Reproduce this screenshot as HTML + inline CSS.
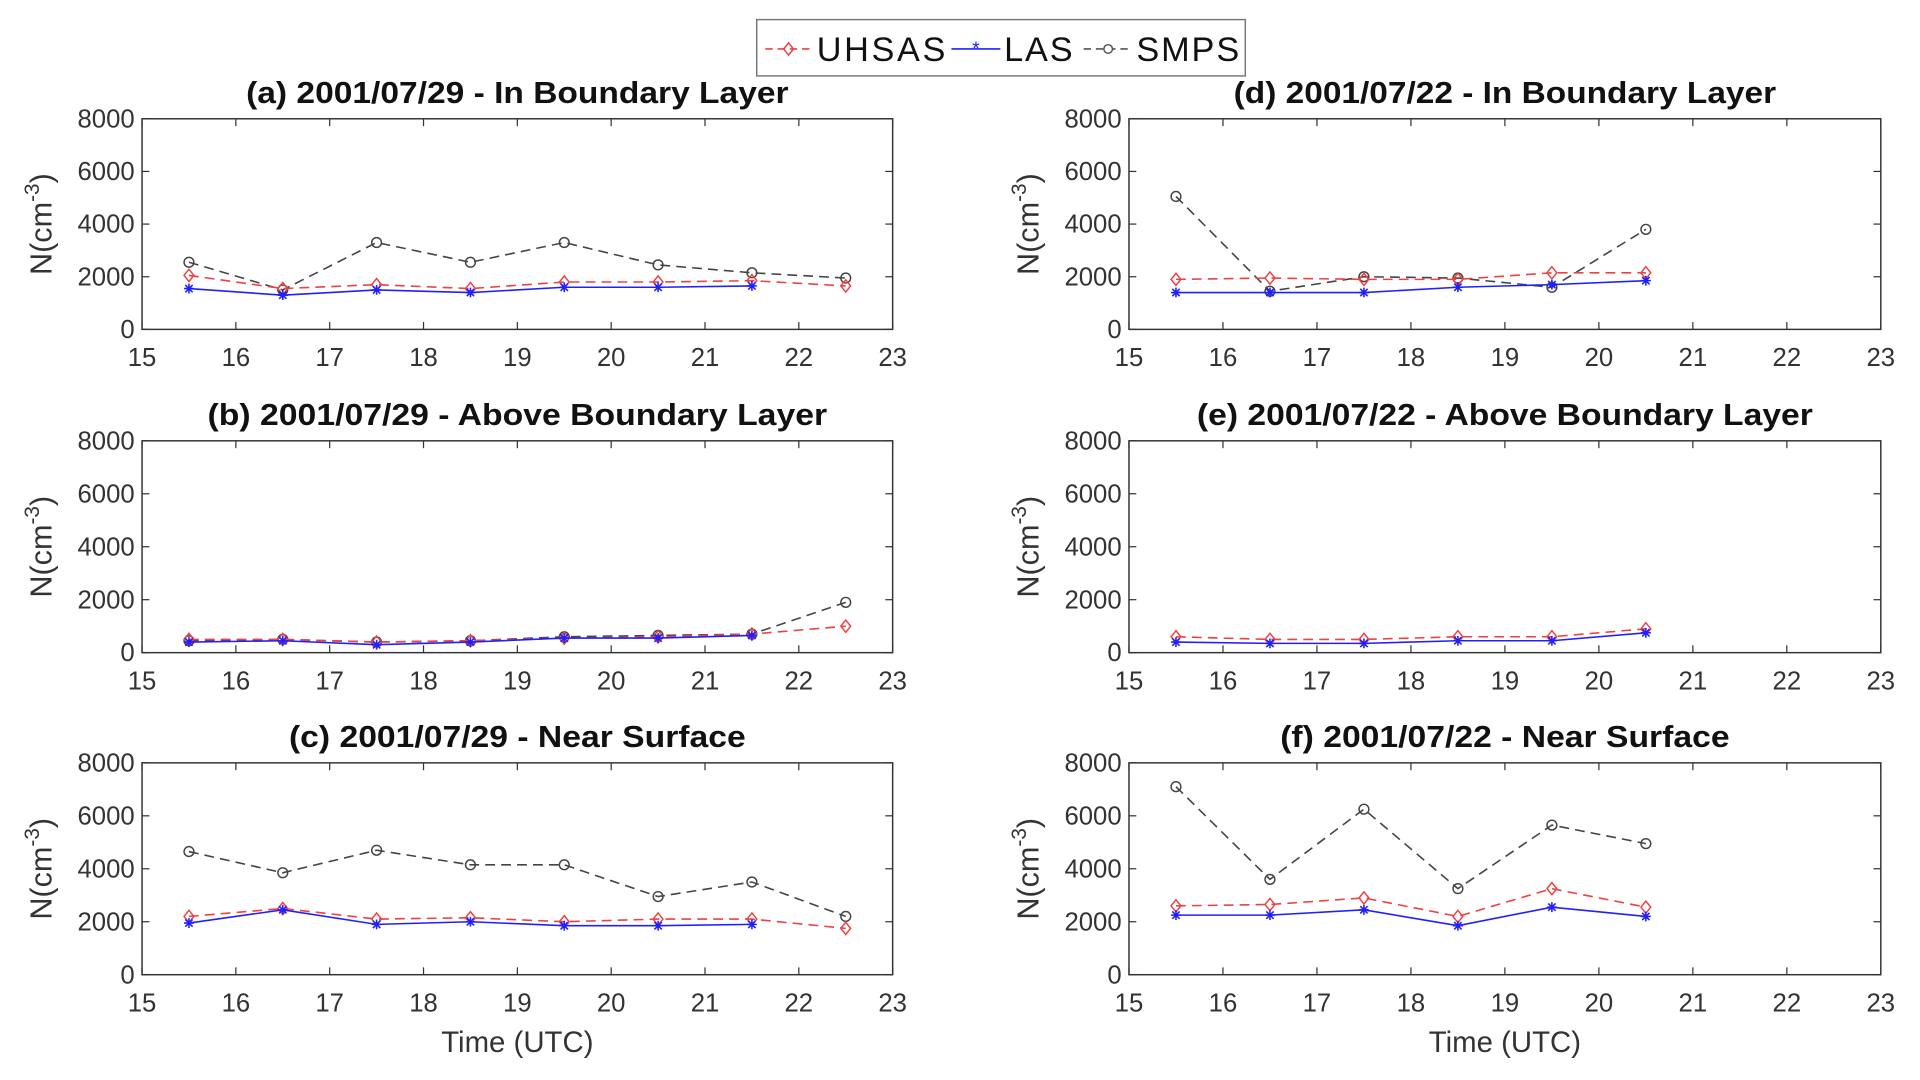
<!DOCTYPE html>
<html><head><meta charset="utf-8"><style>
html,body{margin:0;padding:0;background:#fff;}
svg{display:block;font-family:"Liberation Sans",Arial,sans-serif;}
</style></head><body>
<svg id="chart" width="1920" height="1080" viewBox="0 0 1568 882" preserveAspectRatio="none" xmlns="http://www.w3.org/2000/svg">
<rect width="1568" height="882" fill="#fff"/>
<g id="legend">
<rect x="618" y="16" width="399" height="46" fill="#fff" stroke="#777" stroke-width="1.2"/>
<g>
<line x1="625" y1="40" x2="663" y2="40" stroke="#f04040" stroke-width="1.3" stroke-dasharray="6,4"/>
<path d="M644,35 L648,40 L644,45 L640,40 Z" fill="none" stroke="#f04040" stroke-width="1.2"/>
<text x="667" y="50" font-size="28" fill="#111" textLength="105">UHSAS</text></g>
<g>
<line x1="777" y1="40" x2="817" y2="40" stroke="#2020ff" stroke-width="1.3"/>
<text x="797" y="45" font-size="16" fill="#2020ff" text-anchor="middle">*</text>
<text x="820" y="50" font-size="28" fill="#111" textLength="56">LAS</text></g>
<g>
<line x1="885" y1="40" x2="925" y2="40" stroke="#555" stroke-width="1.3" stroke-dasharray="6,4"/>
<circle cx="905" cy="40" r="3.5" fill="#fff" stroke="#555" stroke-width="1.2"/>
<text x="928" y="50" font-size="28" fill="#111" textLength="84">SMPS</text></g>
</g>
<g id="panels"></g>
</svg>
<script>
const xTicks = [15,16,17,18,19,20,21,22,23];
const yTicks = [0,2000,4000,6000,8000];
const titles = ["(a) 2001/07/29 - In Boundary Layer","(b) 2001/07/29 - Above Boundary Layer","(c) 2001/07/29 - Near Surface","(d) 2001/07/22 - In Boundary Layer","(e) 2001/07/22 - Above Boundary Layer","(f) 2001/07/22 - Near Surface"];
const titleWidths = [443,506,373,443,503,367];
const timesA = [15.5,16.5,17.5,18.5,19.5,20.5,21.5,22.5];
const timesD = [15.5,16.5,17.5,18.5,19.5,20.5];
const uhsasA = [2050,1550,1700,1550,1800,1800,1850,1650];
const lasA = [1550,1300,1500,1400,1600,1600,1650];
const smpsA = [2550,1500,3300,2550,3300,2450,2150,1950];
const uhsasB = [500,500,400,450,550,600,700,1000];
const lasB = [400,450,300,400,550,550,650];
const smpsB = [450,500,400,450,600,650,700,1900];
const uhsasC = [2200,2500,2100,2150,2000,2100,2100,1750];
const lasC = [1950,2450,1900,2000,1850,1850,1900];
const smpsC = [4650,3850,4700,4150,4150,2950,3500,2200];
const uhsasD = [1900,1950,1900,1900,2150,2150];
const lasD = [1400,1400,1400,1600,1700,1850];
const smpsD = [5050,1450,2000,1950,1600,3800];
const uhsasE = [600,500,500,600,600,900];
const lasE = [400,350,350,450,450,750];
const smpsE = [];
const uhsasF = [2600,2650,2900,2200,3250,2550];
const lasF = [2250,2250,2450,1850,2550,2200];
const smpsF = [7100,3600,6250,3250,5650,4950];

const NS="http://www.w3.org/2000/svg";
const root=document.getElementById('panels');
function mk(tag,attrs,parent){const e=document.createElementNS(NS,tag);for(const k in attrs)e.setAttribute(k,attrs[k]);parent.appendChild(e);return e;}
const cols=[{x0:116,x1:729},{x0:922,x1:1536}];
const rows=[{y0:97,y1:269},{y0:360,y1:533},{y0:623,y1:796}];
const panels=[
 {c:0,r:0,t:timesA,u:uhsasA,l:lasA,s:smpsA},
 {c:0,r:1,t:timesA,u:uhsasB,l:lasB,s:smpsB},
 {c:0,r:2,t:timesA,u:uhsasC,l:lasC,s:smpsC},
 {c:1,r:0,t:timesD,u:uhsasD,l:lasD,s:smpsD},
 {c:1,r:1,t:timesD,u:uhsasE,l:lasE,s:smpsE},
 {c:1,r:2,t:timesD,u:uhsasF,l:lasF,s:smpsF}];
const letters=['a','b','c','d','e','f'];
panels.forEach((p,i)=>{
 const C=cols[p.c],R=rows[p.r];
 const xs=v=>C.x0+(v-15)/8*(C.x1-C.x0);
 const ys=v=>R.y1-v/8000*(R.y1-R.y0);
 const g=mk('g',{},root);
 
 
 const tt=mk('text',{x:(C.x0+C.x1)/2,y:R.y0-13,'font-size':25,'font-weight':'bold','text-anchor':'middle',fill:'#111',textLength:titleWidths[i],lengthAdjust:'spacingAndGlyphs'},g);
 tt.textContent=titles[i];
 
 
 const box=mk('rect',{x:C.x0,y:R.y0,width:C.x1-C.x0,height:R.y1-R.y0,fill:'#fff',stroke:'#333','stroke-width':1.2},g);
 
 
 xTicks.forEach(v=>{
  const x=xs(v);
  mk('line',{x1:x,y1:R.y1,x2:x,y2:R.y1-6,stroke:'#333'},g);
  mk('line',{x1:x,y1:R.y0,x2:x,y2:R.y0+6,stroke:'#333'},g);
  const t=mk('text',{x:x,y:R.y1+30,'font-size':21,'text-anchor':'middle',fill:'#333'},g);
  t.textContent=v;
  
  
 });
 yTicks.forEach(v=>{
  const y=ys(v);
  mk('line',{x1:C.x0,y1:y,x2:C.x0+6,y2:y,stroke:'#333'},g);
  mk('line',{x1:C.x1,y1:y,x2:C.x1-6,y2:y,stroke:'#333'},g);
  const t=mk('text',{x:C.x0-6,y:y+7,'font-size':21,'text-anchor':'end',fill:'#333'},g);
  t.textContent=v;
  
  
 });
 const yl=mk('text',{transform:`translate(${C.x0-74},${(R.y0+R.y1)/2}) rotate(-90)`,'font-size':25,'text-anchor':'middle',fill:'#333'},g);
 yl.innerHTML='N(cm<tspan dy="-10" font-size="17">-3</tspan><tspan dy="10">)</tspan>';
 
 
 if(p.r===2){
  const xl=mk('text',{x:(C.x0+C.x1)/2,y:R.y1+63,'font-size':24,'text-anchor':'middle',fill:'#333'},g);
  xl.textContent='Time (UTC)';
  
  
 }
 function series(vals,color,dash,marker,name){
  if(!vals.length)return;
  const pts=vals.map((v,k)=>xs(p.t[k])+','+ys(v)).join(' ');
  const pl=mk('polyline',{points:pts,fill:'none',stroke:color,'stroke-width':1.3},g);
  if(dash)pl.setAttribute('stroke-dasharray','8,5');
  
  
  vals.forEach((v,k)=>{
   const x=xs(p.t[k]),y=ys(v);let m;
   if(marker==='d')m=mk('path',{d:`M${x},${y-5} L${x+4},${y} L${x},${y+5} L${x-4},${y} Z`,fill:'none',stroke:color,'stroke-width':1.2},g);
   else if(marker==='o')m=mk('circle',{cx:x,cy:y,r:4,fill:'none',stroke:color,'stroke-width':1.2},g);
   else m=mk('path',{d:`M${x-4},${y} L${x+4},${y} M${x},${y-4} L${x},${y+4} M${x-3},${y-3} L${x+3},${y+3} M${x-3},${y+3} L${x+3},${y-3}`,stroke:color,'stroke-width':1.3},g);
   
   
  });
 }
 series(p.s,'#444',true,'o','smps');
 series(p.u,'#f04040',true,'d','uhsas');
 series(p.l,'#2020ff',false,'*','las');
});
</script>
</body></html>
